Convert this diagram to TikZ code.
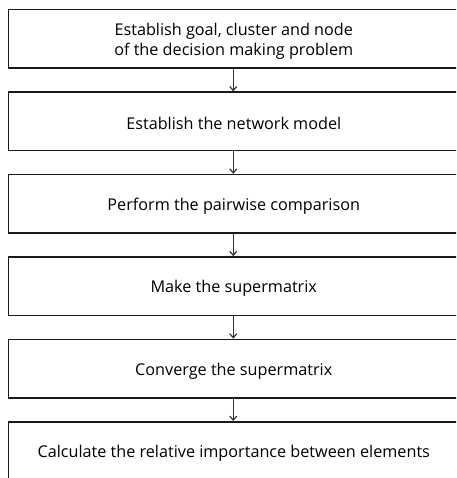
\documentclass[tikz,border=0pt]{standalone}
\usepackage{fontspec}
\setmainfont{Open Sans}
\usetikzlibrary{arrows.meta}
\begin{document}
\begin{tikzpicture}[x=1pt,y=-1pt,
  stepbox/.style={draw=black!90, line width=1.5pt, minimum width=451pt, minimum height=58.5pt,
    inner sep=0pt, anchor=north west},
  steptext/.style={inner sep=0pt, align=center, font=\fontsize{16.2}{19.5}\selectfont},
  flow/.style={draw=black!80, line width=1.2pt, -{Straight Barb[length=4pt,width=7pt,line width=1.2pt]}}]
\clip (0,0) rectangle (456,478);
\node[stepbox] (s1) at (7.5,9) {};
\node[stepbox] (s2) at (7.5,91.4) {};
\node[stepbox] (s3) at (7.5,173.8) {};
\node[stepbox] (s4) at (7.5,256.2) {};
\node[stepbox] (s5) at (7.5,338.6) {};
\node[stepbox] (s6) at (7.5,421) {};
\node[steptext] (t1) at ([yshift=-2.5pt]s1.center) {Establish goal, cluster and node\\of the decision making problem};
\node[steptext] (t2) at ([yshift=-2.5pt]s2.center) {Establish the network model};
\node[steptext] (t3) at ([yshift=-2.5pt]s3.center) {Perform the pairwise comparison};
\node[steptext] (t4) at ([yshift=-2.5pt]s4.center) {Make the supermatrix};
\node[steptext] (t5) at ([yshift=-2.5pt]s5.center) {Converge the supermatrix};
\node[steptext] (t6) at ([yshift=-2.5pt]s6.center) {Calculate the relative importance between elements};
\draw[flow] ([xshift=-0.5pt]s1.south) -- ([xshift=-0.5pt]s2.north);
\draw[flow] ([xshift=-0.5pt]s2.south) -- ([xshift=-0.5pt]s3.north);
\draw[flow] ([xshift=-0.5pt]s3.south) -- ([xshift=-0.5pt]s4.north);
\draw[flow] ([xshift=-0.5pt]s4.south) -- ([xshift=-0.5pt]s5.north);
\draw[flow] ([xshift=-0.5pt]s5.south) -- ([xshift=-0.5pt]s6.north);
\end{tikzpicture}
\end{document}
